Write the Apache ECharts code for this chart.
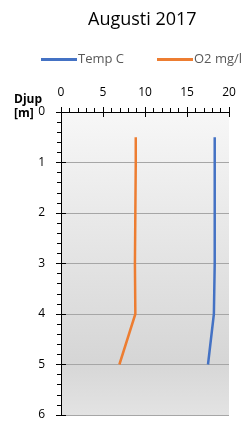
<!DOCTYPE html>
<html>
<head>
<meta charset="utf-8">
<script src="https://cdn.jsdelivr.net/npm/echarts@6/dist/echarts.min.js"></script>
<style>
  html, body { margin: 0; padding: 0; background: #fff; }
  #main { width: 246px; height: 426px; }
</style>
</head>
<body>
<div id="main"></div>
<script>
  var chart = echarts.init(document.getElementById('main'));

  // djup i meter
  var depths = [0.5, 1, 2, 3, 4, 5];
  var tempC = [18.3, 18.3, 18.3, 18.3, 18.2, 17.5];
  var o2 = [8.9, 8.9, 8.85, 8.8, 8.85, 6.95];

  function pairs(vals) {
    var out = [];
    for (var i = 0; i < vals.length; i++) {
      out.push([vals[i], depths[i]]);
    }
    return out;
  }

  var font = 'Open Sans, Liberation Sans, sans-serif';

  var yBase = {
    type: 'value',
    inverse: true,
    min: 0,
    max: 6,
    interval: 1,
    axisLine: { show: true, lineStyle: { color: '#000', width: 1 } }
  };

  function legendAt(left, name) {
    return {
      top: 53,
      left: left,
      padding: 0,
      itemWidth: 36,
      itemHeight: 3,
      icon: 'rect',
      textStyle: { fontFamily: font, fontSize: 13, color: '#595959', padding: [0, 0, 0, -4] },
      data: [name]
    };
  }

  var option = {
    animation: false,
    title: {
      text: 'Augusti 2017',
      left: 83,
      top: 6,
      textStyle: { fontFamily: font, fontSize: 18, fontWeight: 'normal', color: '#000' }
    },
    legend: [legendAt(41, 'Temp C'), legendAt(157, 'O2 mg/l')],
    graphic: [
      {
        type: 'text',
        left: 14,
        top: 93,
        style: { text: 'Djup\n[m]', fontFamily: font, fontSize: 12, fontWeight: 'bold', fill: '#000', align: 'center', lineHeight: 14 }
      }
    ],
    grid: {
      left: 61,
      top: 112,
      width: 168,
      height: 303,
      show: true,
      borderWidth: 0,
      backgroundColor: new echarts.graphic.LinearGradient(0, 0, 0, 1, [
        { offset: 0, color: '#f7f7f7' },
        { offset: 0.82, color: '#d6d6d6' },
        { offset: 1, color: '#e3e3e3' }
      ])
    },
    xAxis: [
      {
        type: 'value',
        position: 'top',
        min: 0,
        max: 20,
        interval: 5,
        axisLine: { show: true, onZero: false, lineStyle: { color: '#000', width: 1 } },
        axisTick: { show: true, length: 5, lineStyle: { color: '#000' } },
        minorTick: { show: true, splitNumber: 5, length: 4, lineStyle: { color: '#000' } },
        axisLabel: { fontFamily: font, fontSize: 12, color: '#000', margin: 13 },
        splitLine: { show: false }
      },
      {
        type: 'value',
        position: 'top',
        min: 0,
        max: 20,
        interval: 5,
        axisLine: { show: false, onZero: false },
        axisTick: { show: true, inside: true, length: 5, lineStyle: { color: '#000' } },
        axisLabel: { show: false },
        splitLine: { show: false }
      }
    ],
    yAxis: [
      Object.assign({}, yBase, {
        axisTick: { show: true, length: 5, lineStyle: { color: '#000' } },
        minorTick: { show: true, splitNumber: 5, length: 4, lineStyle: { color: '#000' } },
        axisLabel: { fontFamily: font, fontSize: 12, color: '#000', margin: 16 },
        splitLine: { show: true, lineStyle: { color: '#a6a6a6', width: 1 } }
      }),
      Object.assign({}, yBase, {
        position: 'left',
        axisLine: { show: false },
        axisTick: { show: true, inside: true, length: 5, lineStyle: { color: '#000' } },
        axisLabel: { show: false },
        splitLine: { show: false }
      })
    ],
    series: [
      {
        name: 'Temp C',
        type: 'line',
        xAxisIndex: 0,
        yAxisIndex: 0,
        showSymbol: false,
        symbol: 'none',
        color: '#4472c4',
        lineStyle: { width: 2.5, color: '#4472c4' },
        data: pairs(tempC)
      },
      {
        name: 'O2 mg/l',
        type: 'line',
        xAxisIndex: 0,
        yAxisIndex: 0,
        showSymbol: false,
        symbol: 'none',
        color: '#ed7d31',
        lineStyle: { width: 2.5, color: '#ed7d31' },
        data: pairs(o2)
      }
    ]
  };

  chart.setOption(option);
</script>
</body>
</html>
